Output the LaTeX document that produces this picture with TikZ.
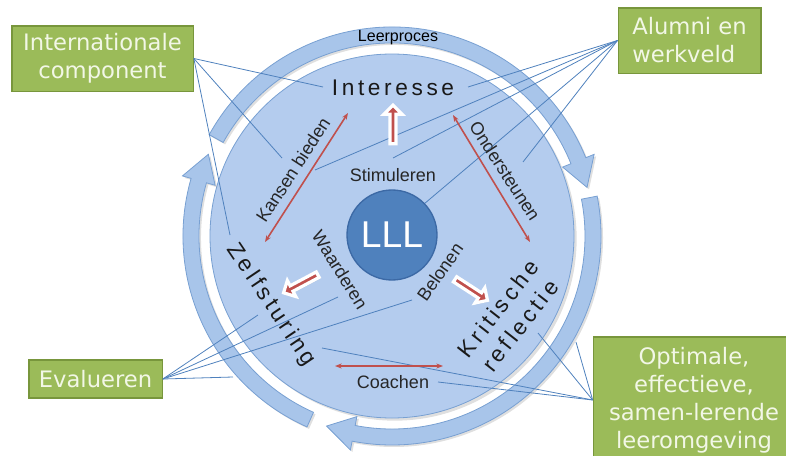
\documentclass[tikz,border=0pt]{standalone}
\usepackage{fontspec}
\setmainfont{Liberation Sans}
\newfontfamily\boxfont{DejaVu Sans}
\newfontfamily\widefont[LetterSpace=16]{Liberation Sans}
\usetikzlibrary{shapes.arrows, shadows, arrows.meta}
\definecolor{diskblue}{RGB}{180,204,238}
\definecolor{ringblue}{RGB}{168,197,234}
\definecolor{ringline}{RGB}{120,160,210}
\definecolor{lllblue}{RGB}{79,129,189}
\definecolor{lllline}{RGB}{60,105,165}
\definecolor{boxgreen}{RGB}{155,187,89}
\definecolor{boxline}{RGB}{120,150,60}
\definecolor{boxtext}{RGB}{242,247,230}
\definecolor{hookblue}{RGB}{79,129,189}
\definecolor{arrowred}{RGB}{192,80,77}

\begin{document}
\begin{tikzpicture}[x=0.75pt, y=0.75pt,
    greenbox/.style={draw=boxline, line width=1pt, fill=boxgreen, text=boxtext, font=\boxfont\fontsize{17}{21}\selectfont, inner sep=0pt},
    actlabel/.style={text=black!85, font=\fontsize{13.5}{16}\selectfont},
    stage/.style={text=black!90, font=\widefont\fontsize{17}{21}\selectfont, align=center},
    hookline/.style={draw=hookblue, line width=0.6pt},
    twoway/.style={draw=arrowred, line width=1.2pt, {Stealth[length=5pt]}-{Stealth[length=5pt]}},
    pusharrow/.style={single arrow, fill=arrowred, draw=white, line width=2.4pt, inner sep=1.1pt, single arrow head extend=4.5pt, minimum height=29pt,
                      drop shadow={opacity=0.2, shadow xshift=1pt, shadow yshift=-1pt}},
    ringband/.style={fill=ringblue, draw=ringline, line width=0.6pt, drop shadow={opacity=0.25, shadow xshift=1.5pt, shadow yshift=-1.5pt}}]

    \useasboundingbox (0,0) rectangle (786,455);

    \node[circle, fill=diskblue, draw=ringline, line width=0.6pt, minimum size=273pt, inner sep=0pt,
          drop shadow={opacity=0.25, shadow xshift=2pt, shadow yshift=-2pt}]   (disk)   at (392,219) {};

    \begin{scope}[shift={(disk.center)}]
        \foreach \a/\b in {151/14, 11/-109, 246/156}
            \path[ringband] (\a:209) arc[start angle=\a, end angle=\b+8, radius=209] -- (\b+8:218) -- (\b:201)
                -- (\b+8:184) -- (\b+8:193) arc[start angle=\b+8, end angle=\a, radius=193] -- cycle;
    \end{scope}

    \node[greenbox, minimum width=136pt, minimum height=49pt, align=center]   (intl)     at (102.5,396.5) {Internationale\\component};
    \node[greenbox, minimum width=107pt, minimum height=49pt, align=left]     (alumni)   at (689.5,414.5) {Alumni en\\werkveld};
    \node[greenbox, minimum width=100pt, minimum height=28.5pt]               (eval)     at (95.5,76)     {Evalueren};
    \node[greenbox, minimum width=151pt, minimum height=94.5pt, align=center] (optimaal) at (694,55)      {Optimale,\\effectieve,\\samen-lerende\\leeromgeving};

    \coordinate (intlhookA)   at (323,368);
    \coordinate (intlhookB)   at (282,297);
    \coordinate (intlhookC)   at (230,220);
    \coordinate (alumnihookA) at (468,368);
    \coordinate (alumnihookB) at (315,285);
    \coordinate (alumnihookC) at (393,297);
    \coordinate (alumnihookD) at (523,293);
    \coordinate (evalhookA)   at (258,140);
    \coordinate (evalhookB)   at (338,158);
    \coordinate (evalhookC)   at (412,155);
    \coordinate (evalhookD)   at (233,78);
    \coordinate (opthookA)    at (538,122);
    \coordinate (opthookB)    at (576,113);
    \coordinate (opthookC)    at (438,73);
    \coordinate (opthookD)    at (322,107);

    \draw[hookline] (intl.east) -- (intlhookA);
    \draw[hookline] (intl.east) -- (intlhookB);
    \draw[hookline] (intl.east) -- (intlhookC);
    \draw[hookline] (alumni.west) -- (alumnihookA);
    \draw[hookline] (alumni.west) -- (alumnihookB);
    \draw[hookline] (alumni.west) -- (alumnihookC);
    \draw[hookline] (alumni.west) -- (392+32,219+32);
    \draw[hookline] (alumni.west) -- (alumnihookD);
    \draw[hookline] (eval.east) -- (evalhookA);
    \draw[hookline] (eval.east) -- (evalhookB);
    \draw[hookline] (eval.east) -- (evalhookC);
    \draw[hookline] (eval.east) -- (evalhookD);
    \draw[hookline] (optimaal.west) -- (opthookA);
    \draw[hookline] (optimaal.west) -- (opthookB);
    \draw[hookline] (optimaal.west) -- (opthookC);
    \draw[hookline] (optimaal.west) -- (opthookD);

    \node[circle, fill=lllblue, draw=lllline, line width=1pt, minimum size=67.5pt, inner sep=0pt,
          text=white, font=\fontsize{28}{30}\selectfont]   (lll)   at (392,220) {LLL};

    \node[font=\fontsize{12}{14}\selectfont]   (leerproces)   at (398,417) {Leerproces};
    \node[stage]                               (interesse)    at (393,367) {Interesse};
    \node[stage, rotate=-56]                   (zelfsturing)  at (271,150) {Zelfsturing};
    \node[stage, rotate=52]                    (kritisch)     at (509,138) {Kritische\\reflectie};
    \node[actlabel]                            (stimuleren)   at (393,280) {Stimuleren};
    \node[actlabel, rotate=57]                 (kansen)       at (293,285) {Kansen bieden};
    \node[actlabel, rotate=-57]                (ondersteunen) at (505,284) {Ondersteunen};
    \node[actlabel, rotate=-58]                (waarderen)    at (340,185) {Waarderen};
    \node[actlabel, rotate=55]                 (belonen)      at (440,183) {Belonen};
    \node[actlabel]                            (coachen)      at (393,73)  {Coachen};

    \coordinate (kansenA) at (265,213);
    \coordinate (kansenB) at (348,342);
    \coordinate (onderA)  at (453,340);
    \coordinate (onderB)  at (530,213);
    \coordinate (coachA)  at (335,89);
    \coordinate (coachB)  at (443,89);

    \draw[twoway] (kansenA) -- (kansenB);
    \draw[twoway] (onderA) -- (onderB);
    \draw[twoway] (coachA) -- (coachB);

    \node[pusharrow, rotate=90]    (tointeresse) at (393,329) {};
    \node[pusharrow, rotate=208]   (tozelf)      at (302,172) {};
    \node[pusharrow, rotate=-33]   (tokritisch)  at (470,166) {};

\end{tikzpicture}
\end{document}
